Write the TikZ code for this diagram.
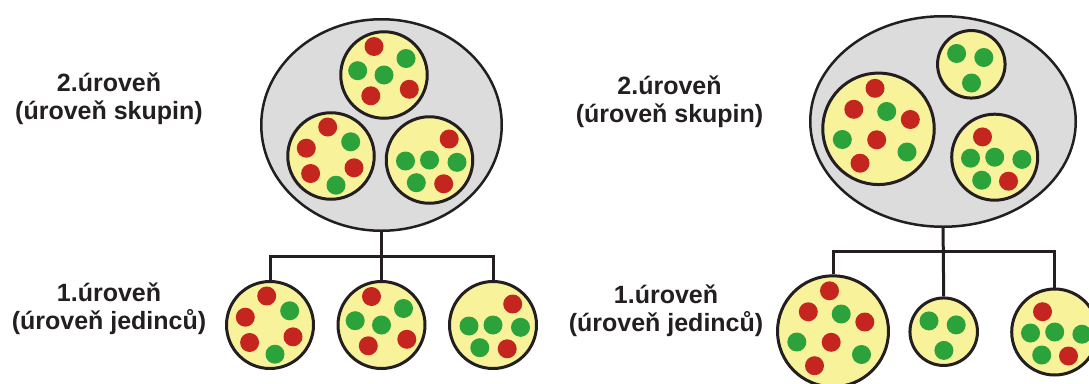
\documentclass[tikz,border=0pt]{standalone}
\usepackage{fontspec}
\setmainfont{Liberation Sans}
\usetikzlibrary{shapes.geometric}

\definecolor{outline}{HTML}{231F20}
\definecolor{groupfill}{HTML}{DCDCDC}
\definecolor{memberfill}{HTML}{F8F29B}
\definecolor{dotR}{HTML}{C4261F}
\definecolor{dotG}{HTML}{2BA23A}

% dot layouts: x offset / y offset / colour (R or G), relative to the circle centre
\def\patA{-10/-28.5/R, 22/-16.5/G, -26.3/-4.3/G, 0/0/G, -13.2/20.8/R, 25.3/14.3/R}
\def\patB{-3.3/-29/R, 19.7/-14.2/G, -24.7/-7.8/R, -20.4/17.5/R, 23/11.8/R, 5/29.2/G}
\def\patC{19.7/-21/R, -24/1/G, 0/0/G, 27.5/2.3/G, -13.2/22.7/G, 14.2/23.8/R}
\def\patD{-14.7/-10.8/G, 12.5/-6.8/G, 0.2/18.7/G}
\def\patE{-3.5/-40.5/R, -24.7/-19.5/R, 8.2/-17.3/G, 31.8/-9.3/R, -36.2/10.7/G, -1.8/11/R, 28.5/23.2/G, -18.5/34.4/R}
\def\patF{-12.2/-20.3/R, -24.2/1/G, 0/0/G, 27.2/2.2/G, -13/23/G, 13.8/24/R}

\newcommand\dotsinside[2]{%
  \begin{scope}[shift={(#1.center)}]
    \foreach \dx/\dy/\c in #2 {\fill[dot\c] (\dx,\dy) circle (9.5);}
  \end{scope}}

\tikzset{
  group/.style={ellipse, draw=outline, line width=2.5pt, fill=groupfill, inner sep=0pt},
  member/.style={circle, draw=outline, line width=3pt, fill=memberfill, inner sep=0pt, minimum size=#1},
  conn/.style={draw=outline, line width=3pt},
  % anchored at the baseline of the second line
  label/.style={align=center, anchor=base, text=outline,
    font=\fontsize{25}{28}\selectfont\bfseries},
}

\begin{document}
\begin{tikzpicture}[x=1pt, y=-1pt]
\clip (0,0) rectangle (1089,383);
\fill[white] (0,0) rectangle (1089,383);

% ---------- labels ----------
\node[label] (lt) at (109,119.5) {2.úroveň\\(úroveň skupin)};
\node[label] (lb) at (109,329.5) {1.úroveň\\(úroveň jedinců)};
\node[label] (rt) at (669.5,122.5) {2.úroveň\\(úroveň skupin)};
\node[label] (rb) at (666,331.5) {1.úroveň\\(úroveň jedinců)};

% ---------- left: three equal groups ----------
\node[group, minimum width=240.5, minimum height=211.5] (e1) at (381.5,125) {};
\node[member=86.5] (g1) at (384,75) {};
\node[member=86.5] (g2) at (331,156) {};
\node[member=86.5] (g3) at (429.5,160) {};
\dotsinside{g1}{\patA}
\dotsinside{g2}{\patB}
\dotsinside{g3}{\patC}

\node[member=87] (c1) at (270,325) {};
\node[member=87] (c2) at (381.5,325) {};
\node[member=87] (c3) at (493,325) {};
\dotsinside{c1}{\patB}
\dotsinside{c2}{\patA}
\dotsinside{c3}{\patC}

\coordinate (j1) at (381.5,256);
\draw[conn] (e1.south) -- (j1);
\draw[conn] (c1.north) |- (j1) -| (c3.north);
\draw[conn] (j1) -- (c2.north);

% ---------- right: groups of different size ----------
\node[group, minimum width=265.5, minimum height=210.5] (e2) at (943,121.5) {};
\node[member=67.5] (h1) at (971.3,64.3) {};
\node[member=111.5] (h2) at (878.5,128.8) {};
\node[member=86] (h3) at (994.7,157.2) {};
\dotsinside{h1}{\patD}
\dotsinside{h2}{\patE}
\dotsinside{h3}{\patF}

\node[member=111] (d1) at (833,331.3) {};
\node[member=67.5] (d2) at (943.7,331.7) {};
\node[member=86] (d3) at (1054.7,332) {};
\dotsinside{d1}{\patE}
\dotsinside{d2}{\patD}
\dotsinside{d3}{\patF}

\coordinate (j2) at (943.3,251.7);
\draw[conn] (e2.south) -- (j2);
\draw[conn] (d1.north) |- (j2) -| (d3.north);
\draw[conn] (j2) -- (d2.north);
\end{tikzpicture}
\end{document}
